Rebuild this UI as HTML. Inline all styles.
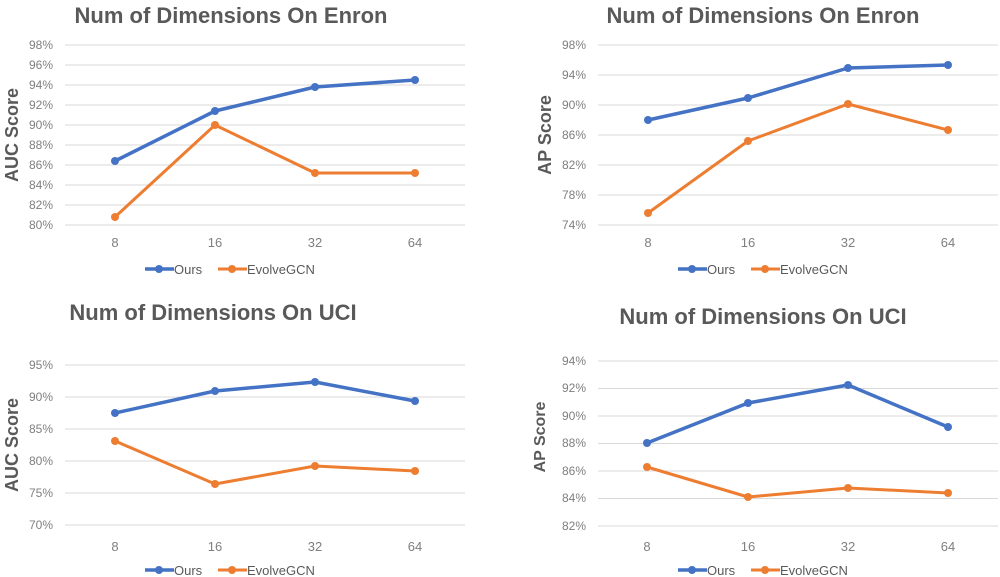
<!DOCTYPE html>
<html><head><style>
html,body{margin:0;padding:0;background:#fff;}
svg{display:block;font-family:"Liberation Sans",sans-serif;}
.t{font-size:22px;font-weight:bold;fill:#595959;}
.yl{font-size:12px;fill:#7f7f7f;text-anchor:end;}
.xl{font-size:13px;fill:#7f7f7f;text-anchor:middle;}
.ax{font-size:18px;font-weight:bold;fill:#595959;text-anchor:middle;}
.lg{font-size:13px;fill:#595959;}
.g{stroke:#d9d9d9;stroke-width:1;}
.b{stroke:#4472c4;stroke-width:3.5;fill:none;stroke-linejoin:round;}
.o{stroke:#ed7d31;stroke-width:3;fill:none;stroke-linejoin:round;}
</style></head><body>
<svg width="1000" height="577" viewBox="0 0 1000 577">
<!-- Chart 1 -->
<text class="t" x="231" y="23" text-anchor="middle">Num of Dimensions On Enron</text>
<g class="g">
<line x1="65" x2="465" y1="45" y2="45"/><line x1="65" x2="465" y1="65" y2="65"/><line x1="65" x2="465" y1="85" y2="85"/><line x1="65" x2="465" y1="105" y2="105"/><line x1="65" x2="465" y1="125" y2="125"/><line x1="65" x2="465" y1="145" y2="145"/><line x1="65" x2="465" y1="165" y2="165"/><line x1="65" x2="465" y1="185" y2="185"/><line x1="65" x2="465" y1="205" y2="205"/><line x1="65" x2="465" y1="225" y2="225"/>
</g>
<g class="yl"><text x="53" y="49">98%</text><text x="53" y="69">96%</text><text x="53" y="89">94%</text><text x="53" y="109">92%</text><text x="53" y="129">90%</text><text x="53" y="149">88%</text><text x="53" y="169">86%</text><text x="53" y="189">84%</text><text x="53" y="209">82%</text><text x="53" y="229">80%</text></g>
<g class="xl"><text x="115" y="247">8</text><text x="215" y="247">16</text><text x="315" y="247">32</text><text x="415" y="247">64</text></g>
<text class="ax" transform="translate(18,135) rotate(-90)">AUC Score</text>
<polyline class="b" points="115,161 215,111 315,87 415,80"/>
<polyline class="o" points="115,217 215,125 315,173 415,173"/>
<g fill="#4472c4"><circle cx="115" cy="161" r="4"/><circle cx="215" cy="111" r="4"/><circle cx="315" cy="87" r="4"/><circle cx="415" cy="80" r="4"/></g>
<g fill="#ed7d31"><circle cx="115" cy="217" r="4"/><circle cx="215" cy="125" r="4"/><circle cx="315" cy="173" r="4"/><circle cx="415" cy="173" r="4"/></g>
<line x1="145" x2="174" y1="269" y2="269" class="b" stroke-width="3"/><circle cx="159" cy="269" r="4" fill="#4472c4"/><text class="lg" x="174" y="274">Ours</text>
<line x1="218" x2="247" y1="269" y2="269" class="o"/><circle cx="232" cy="269" r="4" fill="#ed7d31"/><text class="lg" x="247" y="274">EvolveGCN</text>

<!-- Chart 2 -->
<text class="t" x="763" y="23" text-anchor="middle">Num of Dimensions On Enron</text>
<g class="g">
<line x1="598" x2="998" y1="45" y2="45"/><line x1="598" x2="998" y1="75" y2="75"/><line x1="598" x2="998" y1="105" y2="105"/><line x1="598" x2="998" y1="135" y2="135"/><line x1="598" x2="998" y1="165" y2="165"/><line x1="598" x2="998" y1="195" y2="195"/><line x1="598" x2="998" y1="225" y2="225"/>
</g>
<g class="yl"><text x="586" y="49">98%</text><text x="586" y="79">94%</text><text x="586" y="109">90%</text><text x="586" y="139">86%</text><text x="586" y="169">82%</text><text x="586" y="199">78%</text><text x="586" y="229">74%</text></g>
<g class="xl"><text x="648" y="247">8</text><text x="748" y="247">16</text><text x="848" y="247">32</text><text x="948" y="247">64</text></g>
<text class="ax" transform="translate(551,135) rotate(-90)">AP Score</text>
<polyline class="b" points="648,120 748,98 848,68 948,65"/>
<polyline class="o" points="648,213 748,141 848,104 948,130"/>
<g fill="#4472c4"><circle cx="648" cy="120" r="4"/><circle cx="748" cy="98" r="4"/><circle cx="848" cy="68" r="4"/><circle cx="948" cy="65" r="4"/></g>
<g fill="#ed7d31"><circle cx="648" cy="213" r="4"/><circle cx="748" cy="141" r="4"/><circle cx="848" cy="104" r="4"/><circle cx="948" cy="130" r="4"/></g>
<line x1="678" x2="707" y1="269" y2="269" class="b" stroke-width="3"/><circle cx="692" cy="269" r="4" fill="#4472c4"/><text class="lg" x="707" y="274">Ours</text>
<line x1="751" x2="780" y1="269" y2="269" class="o"/><circle cx="765" cy="269" r="4" fill="#ed7d31"/><text class="lg" x="780" y="274">EvolveGCN</text>

<!-- Chart 3 -->
<text class="t" x="213" y="320" text-anchor="middle">Num of Dimensions On UCI</text>
<g class="g">
<line x1="65" x2="465" y1="365" y2="365"/><line x1="65" x2="465" y1="397" y2="397"/><line x1="65" x2="465" y1="429" y2="429"/><line x1="65" x2="465" y1="461" y2="461"/><line x1="65" x2="465" y1="493" y2="493"/><line x1="65" x2="465" y1="525" y2="525"/>
</g>
<g class="yl"><text x="53" y="369">95%</text><text x="53" y="401">90%</text><text x="53" y="433">85%</text><text x="53" y="465">80%</text><text x="53" y="497">75%</text><text x="53" y="529">70%</text></g>
<g class="xl"><text x="115" y="551">8</text><text x="215" y="551">16</text><text x="315" y="551">32</text><text x="415" y="551">64</text></g>
<text class="ax" transform="translate(18,445) rotate(-90)">AUC Score</text>
<polyline class="b" points="115,413 215,391 315,382 415,401"/>
<polyline class="o" points="115,441 215,484 315,466 415,471"/>
<g fill="#4472c4"><circle cx="115" cy="413" r="4"/><circle cx="215" cy="391" r="4"/><circle cx="315" cy="382" r="4"/><circle cx="415" cy="401" r="4"/></g>
<g fill="#ed7d31"><circle cx="115" cy="441" r="4"/><circle cx="215" cy="484" r="4"/><circle cx="315" cy="466" r="4"/><circle cx="415" cy="471" r="4"/></g>
<line x1="145" x2="174" y1="570" y2="570" class="b" stroke-width="3"/><circle cx="159" cy="570" r="4" fill="#4472c4"/><text class="lg" x="174" y="575">Ours</text>
<line x1="218" x2="247" y1="570" y2="570" class="o"/><circle cx="232" cy="570" r="4" fill="#ed7d31"/><text class="lg" x="247" y="575">EvolveGCN</text>

<!-- Chart 4 -->
<text class="t" x="763" y="324" text-anchor="middle">Num of Dimensions On UCI</text>
<g class="g">
<line x1="598" x2="998" y1="361" y2="361"/><line x1="598" x2="998" y1="388.5" y2="388.5"/><line x1="598" x2="998" y1="416" y2="416"/><line x1="598" x2="998" y1="443.5" y2="443.5"/><line x1="598" x2="998" y1="471" y2="471"/><line x1="598" x2="998" y1="498.5" y2="498.5"/><line x1="598" x2="998" y1="526" y2="526"/>
</g>
<g class="yl"><text x="586" y="365">94%</text><text x="586" y="392">92%</text><text x="586" y="420">90%</text><text x="586" y="447">88%</text><text x="586" y="475">86%</text><text x="586" y="502">84%</text><text x="586" y="530">82%</text></g>
<g class="xl"><text x="647" y="551">8</text><text x="748" y="551">16</text><text x="848" y="551">32</text><text x="948" y="551">64</text></g>
<text class="ax" style="font-size:16px" transform="translate(545,437) rotate(-90)">AP Score</text>
<polyline class="b" points="647,443 748,403 848,385 948,427"/>
<polyline class="o" points="647,467 748,497 848,488 948,493"/>
<g fill="#4472c4"><circle cx="647" cy="443" r="4"/><circle cx="748" cy="403" r="4"/><circle cx="848" cy="385" r="4"/><circle cx="948" cy="427" r="4"/></g>
<g fill="#ed7d31"><circle cx="647" cy="467" r="4"/><circle cx="748" cy="497" r="4"/><circle cx="848" cy="488" r="4"/><circle cx="948" cy="493" r="4"/></g>
<line x1="678" x2="707" y1="570" y2="570" class="b" stroke-width="3"/><circle cx="692" cy="570" r="4" fill="#4472c4"/><text class="lg" x="707" y="575">Ours</text>
<line x1="751" x2="780" y1="570" y2="570" class="o"/><circle cx="765" cy="570" r="4" fill="#ed7d31"/><text class="lg" x="780" y="575">EvolveGCN</text>
</svg>
</body></html>
